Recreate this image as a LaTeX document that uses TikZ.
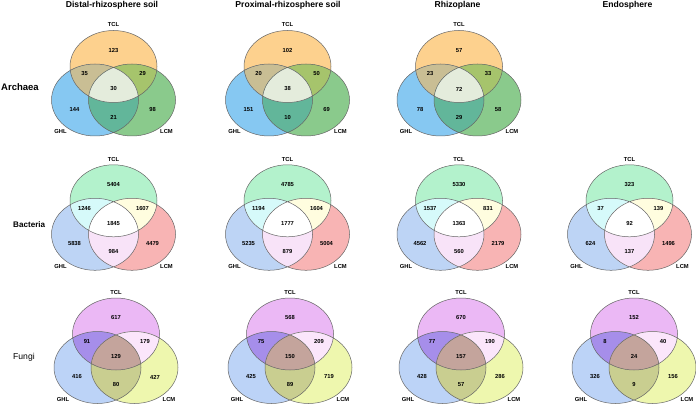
\documentclass[tikz,border=0pt]{standalone}
\usepackage{fontspec}
\setmainfont{Liberation Sans}
\usepackage{tikz}
% archaea palette
\definecolor{arA}{RGB}{253,209,142}
\definecolor{arB}{RGB}{134,200,242}
\definecolor{arC}{RGB}{138,202,140}
\definecolor{arAB}{RGB}{201,190,148}
\definecolor{arAC}{RGB}{166,196,108}
\definecolor{arBC}{RGB}{98,182,154}
\definecolor{arABC}{RGB}{228,236,220}
% bacteria palette
\definecolor{baA}{RGB}{179,242,204}
\definecolor{baB}{RGB}{189,212,245}
\definecolor{baC}{RGB}{248,180,180}
\definecolor{baAB}{RGB}{214,250,250}
\definecolor{baAC}{RGB}{255,253,223}
\definecolor{baBC}{RGB}{248,227,248}
\definecolor{baABC}{RGB}{255,255,255}
% fungi palette
\definecolor{fuA}{RGB}{235,184,245}
\definecolor{fuB}{RGB}{188,211,247}
\definecolor{fuC}{RGB}{238,247,174}
\definecolor{fuAB}{RGB}{166,142,234}
\definecolor{fuAC}{RGB}{251,230,251}
\definecolor{fuBC}{RGB}{201,206,144}
\definecolor{fuABC}{RGB}{196,164,156}

\newcount\venncount
\newcommand{\setTCL}{(0,0) ellipse [x radius=43.5pt, y radius=36pt]}
\newcommand{\setGHL}{(-18.5,33.5) ellipse [x radius=43.5pt, y radius=36pt]}
\newcommand{\setLCM}{(18.5,33.5) ellipse [x radius=43.5pt, y radius=36pt]}
% #1 centre of TCL, #2 palette, #3..#9 counts: TCL, TCL+GHL, TCL+LCM, all, GHL, LCM, GHL+LCM
\newcommand{\venn}[9]{%
  \global\advance\venncount by 1
  \begin{scope}[shift={#1}]
    \fill[#2A] \setTCL;
    \fill[#2B] \setGHL;
    \fill[#2C] \setLCM;
    \begin{scope} \clip \setTCL; \fill[#2AB] \setGHL; \end{scope}
    \begin{scope} \clip \setTCL; \fill[#2AC] \setLCM; \end{scope}
    \begin{scope} \clip \setGHL; \fill[#2BC] \setLCM; \end{scope}
    \begin{scope} \clip \setTCL; \clip \setGHL; \fill[#2ABC] \setLCM; \end{scope}
    \draw[vennline] \setTCL \setGHL \setLCM;
    \node[setlabel] (v\the\venncount tcl) at (0,-41.5) {TCL};
    \node[setlabel] (v\the\venncount ghl) at (-53,65.5) {GHL};
    \node[setlabel] (v\the\venncount lcm) at (53,65.5) {LCM};
    \node[count] (v\the\venncount a) at (0,-16) {#3};
    \node[count] (v\the\venncount ab) at (-29,7.5) {#4};
    \node[count] (v\the\venncount ac) at (29,7.5) {#5};
    \node[count] (v\the\venncount abc) at (0,22.5) {#6};
    \node[count] (v\the\venncount b) at (-39,43) {#7};
    \node[count] (v\the\venncount c) at (39,43) {#8};
    \node[count] (v\the\venncount bc) at (0,51) {#9};
  \end{scope}}

\begin{document}
\begin{tikzpicture}[
    x=1pt, y=-1pt,
    vennline/.style={draw=black!60, line width=0.5pt},
    count/.style={font=\bfseries\fontsize{5.8}{6}\selectfont, inner sep=0pt},
    setlabel/.style={font=\bfseries\fontsize{5.8}{6}\selectfont, inner sep=0pt},
    coltitle/.style={font=\bfseries\fontsize{8.6}{10}\selectfont, inner sep=0pt, anchor=base},
    rowtitle/.style={font=\fontsize{8.6}{10}\selectfont, inner sep=0pt, anchor=base west}
]
\useasboundingbox (0,0) rectangle (696,406);

\node[coltitle] (distal) at (112,7.5) {Distal-rhizosphere soil};
\node[coltitle] (proximal) at (288,7.5) {Proximal-rhizosphere soil};
\node[coltitle] (rhizoplane) at (457.5,7.5) {Rhizoplane};
\node[coltitle] (endosphere) at (627.5,7.5) {Endosphere};

\node[rowtitle, font=\bfseries\fontsize{9.5}{10}\selectfont] (archaea) at (1,91) {Archaea};
\node[rowtitle, font=\bfseries\fontsize{8.1}{10}\selectfont] (bacteria) at (13,227.5) {Bacteria};
\node[rowtitle] (fungi) at (13,359) {Fungi};

% Archaea
\venn{(113.5,66.5)}{ar}{123}{35}{29}{30}{144}{98}{21}
\venn{(287.5,66.5)}{ar}{102}{20}{50}{38}{151}{69}{10}
\venn{(459,66.5)}{ar}{57}{23}{33}{72}{78}{58}{29}

% Bacteria
\venn{(113.5,200.8)}{ba}{5404}{1246}{1607}{1845}{5838}{4479}{984}
\venn{(287.5,200.8)}{ba}{4785}{1194}{1604}{1777}{5235}{5004}{879}
\venn{(459,200.8)}{ba}{5330}{1537}{831}{1363}{4562}{2179}{560}
\venn{(629.5,200.8)}{ba}{323}{37}{139}{92}{624}{1496}{137}

% Fungi
\venn{(116,334)}{fu}{617}{91}{179}{129}{416}{427}{80}
\venn{(290,334)}{fu}{568}{75}{209}{150}{425}{719}{89}
\venn{(461,334)}{fu}{670}{77}{190}{157}{428}{286}{57}
\venn{(634,334)}{fu}{152}{8}{40}{24}{326}{156}{9}

\end{tikzpicture}
\end{document}
